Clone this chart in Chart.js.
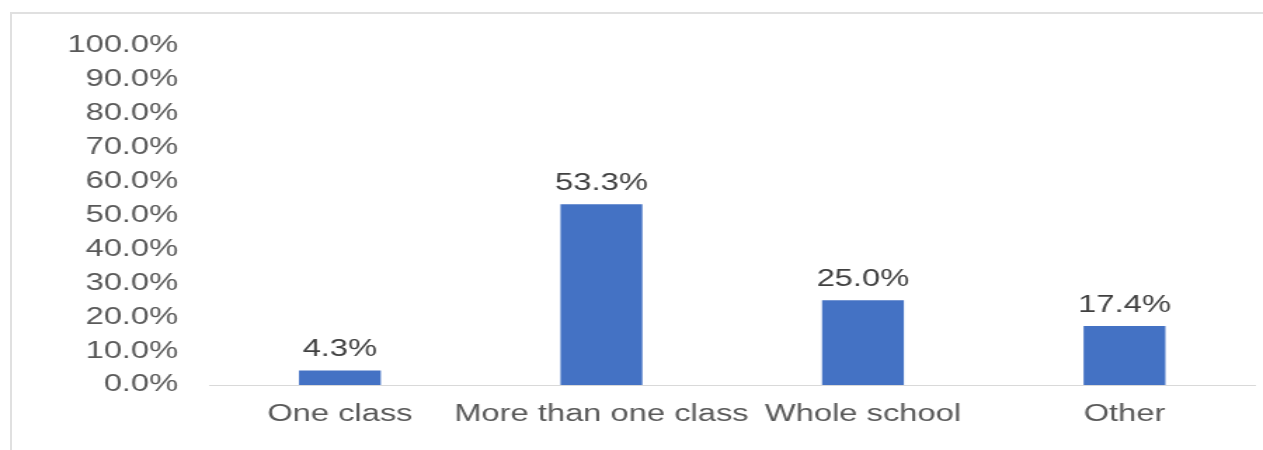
<!DOCTYPE html>
<html>
<head>
<meta charset="utf-8">
<script src="https://cdn.jsdelivr.net/npm/chart.js@4"></script>
<style>
    html, body { margin: 0; padding: 0; background: #fff; overflow: hidden; }
    #frame { position: absolute; left: 10px; top: 12px; width: 1300px; height: 500px; border: 2px solid #e0e0e0; }
    #wrap { position: absolute; left: 0; top: 0; width: 900px; height: 450px; transform-origin: 0 0; transform: scaleX(1.4033); }
</style>
</head>
<body>
<div id="frame"></div>
<div id="wrap"><canvas id="myChart"></canvas></div>
<script>
const categories = ['One class', 'More than one class', 'Whole school', 'Other']
const values = [4.3, 53.3, 25.0, 17.4]
const yTicks = [0, 10, 20, 30, 40, 50, 60, 70, 80, 90, 100]

const fontFamily = '"Liberation Sans", Arial, sans-serif'

// value labels above the bars
const barLabels = {
    id: 'barLabels',
    afterDatasetsDraw(chart) {
        const ctx = chart.ctx
        const meta = chart.getDatasetMeta(0)
        ctx.save()
        ctx.font = '23.3px ' + fontFamily
        ctx.fillStyle = '#404040'
        ctx.textAlign = 'center'
        ctx.textBaseline = 'alphabetic'
        meta.data.forEach((bar, i) => {
            ctx.fillText(values[i].toFixed(1) + '%', bar.x, bar.y - 14)
        })
        ctx.restore()
    }
}

const ctx = document.getElementById('myChart').getContext('2d');
const myChart = new Chart(ctx, {
    type: 'bar',
    data: {
        labels: categories,
        datasets: [{
            data: values,
            backgroundColor: '#4472C4',
            barPercentage: 1,
            categoryPercentage: 0.313
        }]
    },
    options: {
        responsive: true,
        maintainAspectRatio: false,
        animation: false,
        layout: {
            padding: { top: 46, right: 5.5, bottom: 0, left: 0 }
        },
        plugins: {
            legend: { display: false },
            tooltip: { enabled: false }
        },
        scales: {
            x: {
                grid: { display: false, drawTicks: false },
                border: { display: true, color: '#d9d9d9', width: 1 },
                ticks: {
                    padding: 16,
                    color: '#595959',
                    font: { family: fontFamily, size: 23.3 },
                    maxRotation: 0,
                    autoSkip: false
                },
                afterFit(axis) { axis.height = 65 }
            },
            y: {
                min: 0,
                max: 100,
                grid: { display: false, drawTicks: false },
                border: { display: false },
                afterBuildTicks(axis) {
                    axis.ticks = yTicks.map(v => ({ value: v }))
                },
                ticks: {
                    padding: 22,
                    color: '#595959',
                    font: { family: fontFamily, size: 23.3 },
                    callback: v => v.toFixed(1) + '%'
                },
                afterFit(axis) { axis.width = 149 }
            }
        }
    },
    plugins: [barLabels]
});
</script>
</body>
</html>
